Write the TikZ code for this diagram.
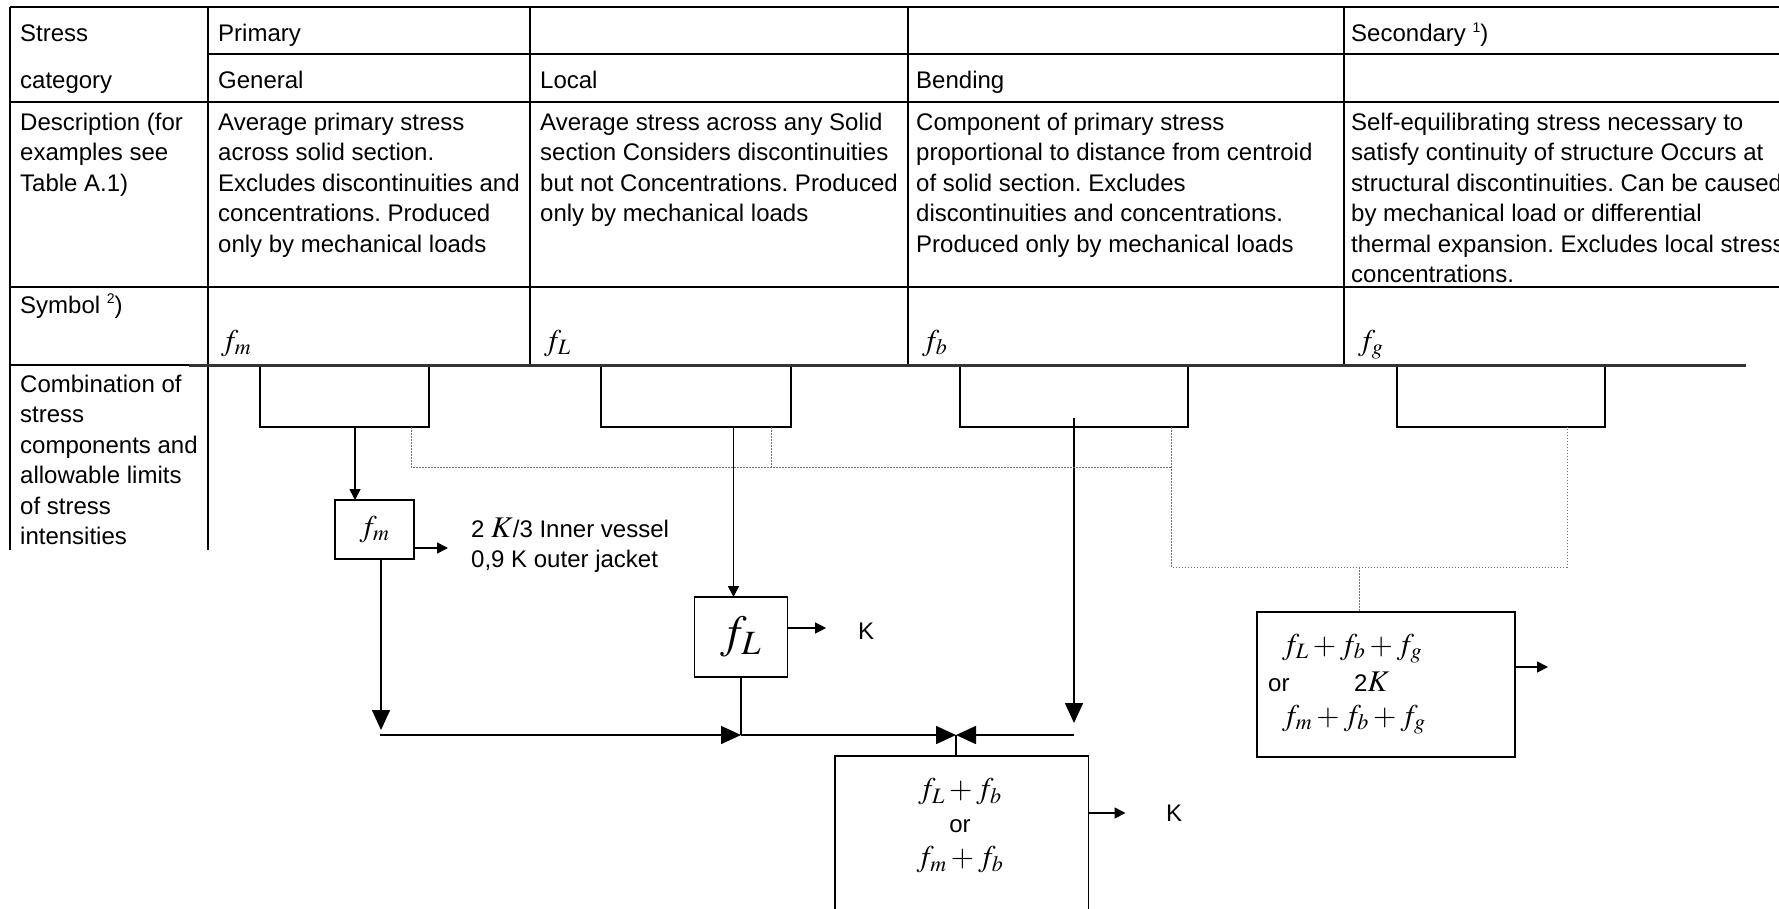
\documentclass[tikz,border=0pt]{standalone}
\usepackage{mathptmx}
\usepackage[no-math]{fontspec}
\setmainfont{Liberation Sans}
\usetikzlibrary{arrows.meta,calc}
\DeclareMathSizes{24}{30}{22}{16}
\DeclareMathSizes{36}{46}{34}{24}
\frenchspacing
\newcommand{\noteref}[1]{\raisebox{0.75ex}{\fontsize{14}{14}\selectfont #1}}

\begin{document}
\begin{tikzpicture}[
    x=1pt, y=-1pt,
    font=\fontsize{24}{30.5}\selectfont,
    grid/.style={line width=2pt},
    rowrule/.style={line width=3pt, black!80},
    txt/.style={inner sep=0pt, anchor=base west},
    para/.style={inner sep=0pt, anchor=north west, align=left},
    bracket/.style={draw, line width=2pt, inner sep=0pt, outer sep=0pt, minimum height=62pt},
    box/.style={draw, line width=1.6pt, inner sep=0pt, outer sep=0pt},
    conn/.style={line width=1.6pt},
    arr/.style={line width=1.6pt, -{Triangle[length=20pt,width=18pt]}},
    sarr/.style={line width=1.6pt, -{Triangle[length=11pt,width=11pt]}},
    dotline/.style={line width=1pt, black!55, dash pattern=on 1.5pt off 1.5pt}
]
\useasboundingbox (0,0) rectangle (1779,909);
\clip (0,0) rectangle (1779,909);

% table grid
\draw[grid] (10,7) -- (1779,7);
\draw[grid] (208,54) -- (1779,54);
\draw[grid] (10,102) -- (1779,102);
\draw[grid] (10,287) -- (1779,287);
\draw[grid] (10,365) -- (208,365);
\draw[grid] (10,7) -- (10,550);
\draw[grid] (208,7) -- (208,550);
\foreach \cx in {530,908,1344}
    \draw[grid] (\cx,7) -- (\cx,365);

% table text
\node[txt] (cat1) at (20,42) {Stress};
\node[txt] (cat2) at (20,88.5) {category};
\node[txt] (prim) at (218,42) {Primary};
\node[txt] (second) at (1351,42) {Secondary \noteref{1})};
\node[txt] (gen) at (218,88.5) {General};
\node[txt] (loc) at (540,88.5) {Local};
\node[txt] (bend) at (916,88.5) {Bending};

\node[para] (desc) at (20,112.5) {Description (for\\examples see\\Table A.1)};
\node[para] (dgen) at (218,112.5) {Average primary stress\\across solid section.\\Excludes discontinuities and\\concentrations. Produced\\only by mechanical loads};
\node[para] (dloc) at (540,112.5) {Average stress across any Solid\\section Considers discontinuities\\but not Concentrations. Produced\\only by mechanical loads};
\node[para] (dbend) at (916,112.5) {Component of primary stress\\proportional to distance from centroid\\of solid section. Excludes\\discontinuities and concentrations.\\Produced only by mechanical loads};
\node[para] (dsec) at (1351,112.5) {Self-equilibrating stress necessary to\\satisfy continuity of structure Occurs at\\structural discontinuities. Can be caused\\by mechanical load or differential\\thermal expansion. Excludes local stress\\concentrations.};

\node[txt] (sym) at (20,313) {Symbol \noteref{2})};
\node[txt] (sfm) at (221,350) {$f_m$};
\node[txt] (sfL) at (544,350) {$f_L$};
\node[txt] (sfb) at (922,350) {$f_b$};
\node[txt] (sfg) at (1358,350) {$f_g$};

\node[para] (comb) at (20,374.5) {Combination of\\stress\\components and\\allowable limits\\of stress\\intensities};

% combination brackets
\node[bracket, minimum width=169pt] (br1) at (344.5,396) {};
\node[bracket, minimum width=190pt] (br2) at (695.5,396) {};
\node[bracket, minimum width=228pt] (br3) at (1074,396) {};
\node[bracket, minimum width=208pt] (br4) at (1501,396) {};
\draw[rowrule] (189,365) -- (1746,365);

% boxes
\node[box, minimum width=79pt, minimum height=59pt] (fmbox) at (374.5,529.5) {$f_m$};
\node[box, minimum width=93pt, minimum height=80pt, font=\fontsize{36}{40}\selectfont] (fLbox) at (741,637) {$f_L$};
\node[box, minimum width=253.5pt, minimum height=200pt, anchor=north] (sumbox) at (961.75,756) {};
\node[align=center, inner sep=0pt, font=\fontsize{24}{34}\selectfont] (sumtxt) at (960,826) {$f_L+f_b$\\or\\$f_m+f_b$};
\node[box, minimum width=258pt, minimum height=145pt] (secbox) at (1386,684.5) {};
\node[txt] (secA) at (1282,654) {$f_L+f_b+f_g$};
\node[txt] (secB) at (1268,691) {or};
\node[txt] (secK) at (1354,691) {2$K$};
\node[txt] (secC) at (1282,725) {$f_m+f_b+f_g$};

% limits
\node[para] (lim1) at (471,517.5) {2 $K$/3 Inner vessel\\0,9 K outer jacket};
\node[txt, anchor=west] (lim2) at (858,631) {K};
\node[txt, anchor=west] (lim3) at (1166,813) {K};

% connectors
\coordinate (jl) at (380,735);
\coordinate (jn) at (956,735);
\coordinate (a1) at ([xshift=-19.5pt]fmbox.north);
\coordinate (a2) at ([xshift=6.5pt]fmbox.south);
\coordinate (a3) at ([xshift=-7.5pt]fLbox.north);
\coordinate (a4) at ([yshift=9pt]br3.south);
\draw[sarr] (a1 |- br1.south) -- (a1);
\draw[sarr] ([yshift=11pt]fmbox.south east) -- ++(34,0);
\draw[arr] (a2) -- (a2 |- 0,730);
\draw[sarr] (a3 |- br2.south) -- (a3);
\draw[sarr] ([yshift=9pt]fLbox.east) -- ++(38.6,0);
\draw[conn] (fLbox.south) -- (fLbox.south |- jn);
\draw[arr] (jl) -- (fLbox.south |- jn);
\draw[arr] (fLbox.south |- jn) -- (jn);
\draw[arr] (a4) -- (a4 |- 0,723);
\draw[arr] (a4 |- jn) -- (jn);
\draw[conn] (jn) -- (jn |- sumbox.north);
\draw[sarr] ([yshift=-57pt]sumbox.north east) -- ++(37,0);
\draw[sarr] ([yshift=17.5pt]secbox.east) -- ++(33,0);

% dotted links
\coordinate (dA) at (0,467);
\coordinate (dB) at (0,567);
\coordinate (p1) at ([xshift=-18pt]br1.south east);
\coordinate (p2) at ([xshift=-19.5pt]br2.south east);
\coordinate (p3) at ([xshift=-16.4pt]br3.south east);
\coordinate (p4) at ([xshift=-38pt]br4.south east);
\coordinate (p5) at ([xshift=-27pt]secbox.north);
\draw[dotline] (p1) |- (p3 |- dA);
\draw[dotline] (p2) -- (p2 |- dA);
\draw[dotline] (p3) |- (p4 |- dB) -- (p4);
\draw[dotline] (p5 |- dB) -- (p5);
\end{tikzpicture}
\end{document}
